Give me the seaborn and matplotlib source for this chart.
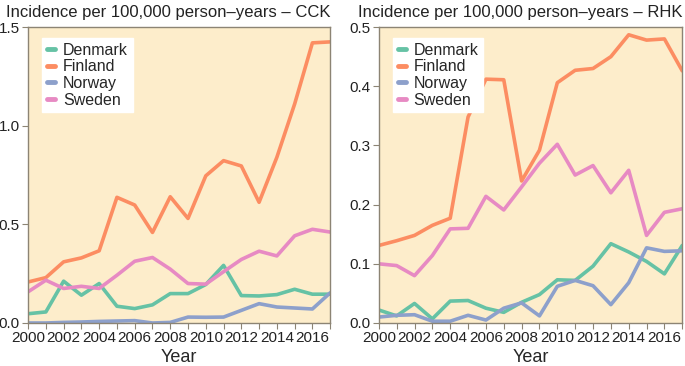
import pandas as pd
import matplotlib.pyplot as plt
import seaborn as sns
from matplotlib.ticker import MultipleLocator

# Data
years = list(range(2000, 2018))
countries = ['Denmark', 'Finland', 'Norway', 'Sweden']

cck_denmark = [0.047, 0.056, 0.212, 0.141, 0.200, 0.085, 0.073, 0.092, 0.149, 0.149,
               0.195, 0.292, 0.139, 0.137, 0.144, 0.171, 0.146, 0.146]
cck_finland = [0.208, 0.230, 0.310, 0.330, 0.366, 0.637, 0.598, 0.459, 0.640, 0.530,
               0.746, 0.823, 0.796, 0.612, 0.840, 1.110, 1.420, 1.425]
cck_norway = [0.000, 0.000, 0.003, 0.005, 0.008, 0.010, 0.012, 0.000, 0.003, 0.030,
              0.029, 0.030, 0.064, 0.098, 0.081, 0.076, 0.071, 0.153]
cck_sweden = [0.158, 0.217, 0.175, 0.186, 0.175, 0.242, 0.313, 0.332, 0.273, 0.200,
              0.197, 0.260, 0.322, 0.364, 0.340, 0.442, 0.475, 0.461]

rhk_denmark = [0.022, 0.012, 0.033, 0.007, 0.037, 0.038, 0.025, 0.018, 0.035, 0.048,
               0.073, 0.072, 0.096, 0.134, 0.120, 0.104, 0.083, 0.131]
rhk_finland = [0.131, 0.139, 0.148, 0.165, 0.177, 0.348, 0.412, 0.411, 0.240, 0.292,
               0.406, 0.427, 0.430, 0.450, 0.487, 0.478, 0.480, 0.426]
rhk_norway = [0.010, 0.013, 0.014, 0.003, 0.003, 0.013, 0.005, 0.025, 0.034, 0.012,
              0.062, 0.072, 0.063, 0.031, 0.068, 0.127, 0.121, 0.122]
rhk_sweden = [0.100, 0.097, 0.080, 0.114, 0.159, 0.160, 0.214, 0.191, 0.230, 0.270,
              0.302, 0.250, 0.266, 0.220, 0.258, 0.148, 0.187, 0.193]


def long_df(series):
    rows = []
    for country, vals in zip(countries, series):
        for y, v in zip(years, vals):
            rows.append({'Year': y, 'Country': country, 'Incidence': v})
    return pd.DataFrame(rows)


cck = long_df([cck_denmark, cck_finland, cck_norway, cck_sweden])
rhk = long_df([rhk_denmark, rhk_finland, rhk_norway, rhk_sweden])

sns.set_style('ticks')
plt.rcParams['font.family'] = ['Liberation Sans', 'DejaVu Sans']

palette = sns.color_palette('Set2', 4)
bg = '#fdedcb'
spine = '#8c8474'

fig = plt.figure(figsize=(6.85, 3.66), dpi=100)
ax1 = fig.add_axes([0.041, 0.1175, 0.441, 0.8085])
ax2 = fig.add_axes([0.553, 0.1175, 0.443, 0.8085])

panels = [
    (ax1, cck, 'Incidence per 100,000 person\u2013years \u2013 CCK', 1.5, 0.5),
    (ax2, rhk, 'Incidence per 100,000 person\u2013years \u2013 RHK', 0.5, 0.1),
]

for ax, df, title, ymax, ystep in panels:
    sns.lineplot(data=df, x='Year', y='Incidence', hue='Country', palette=palette,
                 linewidth=2.6, ax=ax)
    ax.set_facecolor(bg)
    ax.set_xlim(2000, 2017)
    ax.set_ylim(0, ymax)
    ax.xaxis.set_major_locator(MultipleLocator(2))
    ax.xaxis.set_minor_locator(MultipleLocator(1))
    ax.yaxis.set_major_locator(MultipleLocator(ystep))
    ax.tick_params(axis='both', labelsize=11, colors='#222222', length=4, width=0.8)
    ax.tick_params(axis='x', which='minor', length=4, width=0.8, color=spine)
    ax.tick_params(axis='both', which='major', color=spine, pad=2)
    for s in ax.spines.values():
        s.set_color(spine)
        s.set_linewidth(1.0)
    ax.set_xlabel('Year', fontsize=13, labelpad=3)
    ax.set_ylabel('')
    ax.set_title(title, fontsize=12, loc='right', pad=7, color='#222222')
    leg = ax.legend(loc='upper left', fontsize=11.5, frameon=True, fancybox=False,
                    handlelength=0.5, handletextpad=0.5, labelspacing=0.1,
                    borderpad=0.3, bbox_to_anchor=(0.02, 0.99))
    leg.get_frame().set_facecolor('white')
    leg.get_frame().set_edgecolor('white')
    leg.get_frame().set_alpha(1.0)
    for line in leg.get_lines():
        line.set_linewidth(3.5)

fig.savefig('out.png', dpi=100)
